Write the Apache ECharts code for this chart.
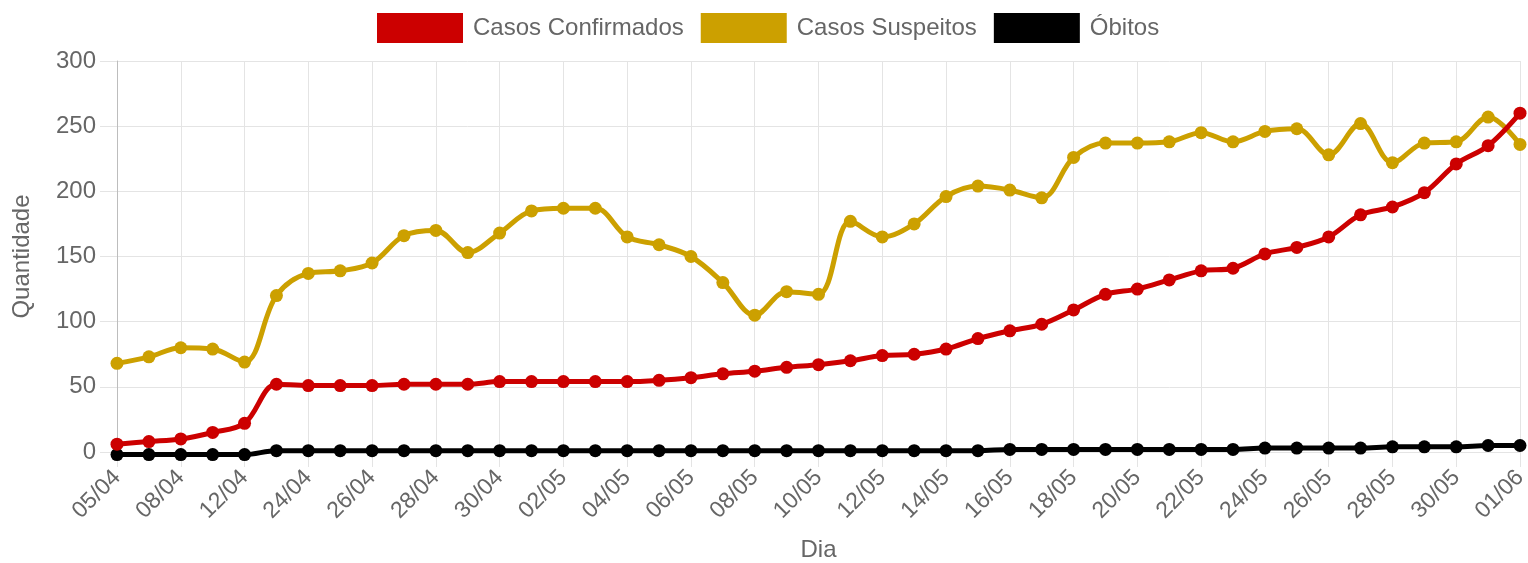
<!DOCTYPE html>
<html>
<head>
<meta charset="utf-8">
<script src="https://cdn.jsdelivr.net/npm/echarts@6/dist/echarts.min.js"></script>
<style>
    html, body { margin: 0; padding: 0; background: #fff; }
    #chart { width: 1528px; height: 563px; }
</style>
</head>
<body>
<div id="chart"></div>
<script>
// dias (rótulos do eixo x)
const dias = [
    '05/04', '06/04', '08/04', '10/04', '12/04', '23/04',
    '24/04', '25/04', '26/04', '27/04', '28/04', '29/04', '30/04',
    '01/05', '02/05', '03/05', '04/05', '05/05', '06/05', '07/05', '08/05',
    '09/05', '10/05', '11/05', '12/05', '13/05', '14/05', '15/05', '16/05',
    '17/05', '18/05', '19/05', '20/05', '21/05', '22/05', '23/05', '24/05',
    '25/05', '26/05', '27/05', '28/05', '29/05', '30/05', '31/05', '01/06'
]

const confirmados = [
    6, 8, 10, 15, 22, 52, 51, 51, 51, 52, 52, 52, 54,
    54, 54, 54, 54, 55, 57, 60, 62, 65, 67, 70, 74, 75, 79, 87, 93,
    98, 109, 121, 125, 132, 139, 141, 152, 157, 165, 182, 188, 199, 221, 235, 260
]

const suspeitos = [
    68, 73, 80, 79, 69, 120, 137, 139, 145, 166, 170, 153, 168,
    185, 187, 187, 165, 159, 150, 130, 105, 123, 121, 177, 165, 175, 196, 204, 201,
    195, 226, 237, 237, 238, 245, 238, 246, 248, 228, 252, 222, 237, 238, 257, 236
]

const obitos = [
    -2, -2, -2, -2, -2, 1, 1, 1, 1, 1, 1, 1, 1,
    1, 1, 1, 1, 1, 1, 1, 1, 1, 1, 1, 1, 1, 1, 1, 2,
    2, 2, 2, 2, 2, 2, 2, 3, 3, 3, 3, 4, 4, 4, 5, 5
]

const yTicks = { min: 0, max: 300, interval: 50 }

const FONT = 'Liberation Sans, Arial, Helvetica, sans-serif'
const TEXT_COLOR = '#666'
const GRID_COLOR = '#e4e4e4'

const chart = echarts.init(document.getElementById('chart'))

// monta uma série de linha
const lineSerie = (name, data, color, z) => ({
    name,
    type: 'line',
    data,
    z,
    clip: false,
    smooth: 0.35,
    symbol: 'circle',
    symbolSize: 13,
    lineStyle: { width: 5, color },
    itemStyle: { color }
})

const option = {
    animation: false,
    textStyle: { fontFamily: FONT },
    legend: {
        top: 8,
        left: 372,
        itemWidth: 86,
        itemHeight: 30,
        itemGap: 17,
        icon: 'rect',
        textStyle: {
            fontSize: 24,
            color: TEXT_COLOR,
            fontFamily: FONT,
            padding: [0, 0, 0, 5]
        },
        data: ['Casos Confirmados', 'Casos Suspeitos', 'Óbitos']
    },
    grid: {
        left: 117,
        right: 8,
        top: 61,
        bottom: 111,
        outerBoundsMode: 'none'
    },
    xAxis: {
        type: 'category',
        data: dias,
        boundaryGap: false,
        name: 'Dia',
        nameLocation: 'middle',
        nameGap: 86,
        nameTextStyle: { fontSize: 24, color: TEXT_COLOR, fontFamily: FONT },
        axisLine: { lineStyle: { color: GRID_COLOR, width: 1 } },
        axisTick: { show: true, interval: 1, length: 15, lineStyle: { color: GRID_COLOR } },
        axisLabel: {
            interval: 1,
            rotate: 45,
            margin: 22,
            fontSize: 23,
            color: TEXT_COLOR,
            fontFamily: FONT
        },
        splitLine: { show: true, interval: 1, lineStyle: { color: GRID_COLOR, width: 1 } }
    },
    yAxis: {
        type: 'value',
        min: yTicks.min,
        max: yTicks.max,
        interval: yTicks.interval,
        name: 'Quantidade',
        nameLocation: 'middle',
        nameGap: 83,
        nameTextStyle: { fontSize: 24, color: TEXT_COLOR, fontFamily: FONT },
        axisLine: { show: true, lineStyle: { color: '#bdbdbd', width: 1 } },
        axisTick: { show: true, length: 17, lineStyle: { color: GRID_COLOR } },
        axisLabel: {
            margin: 21,
            fontSize: 24,
            color: TEXT_COLOR,
            fontFamily: FONT
        },
        splitLine: { lineStyle: { color: GRID_COLOR, width: 1 } }
    },
    series: [
        lineSerie('Casos Confirmados', confirmados, '#cc0000', 4),
        lineSerie('Casos Suspeitos', suspeitos, '#cca000', 3),
        lineSerie('Óbitos', obitos, '#000000', 2)
    ]
}

chart.setOption(option)
window.addEventListener('resize', () => chart.resize())
</script>
</body>
</html>
